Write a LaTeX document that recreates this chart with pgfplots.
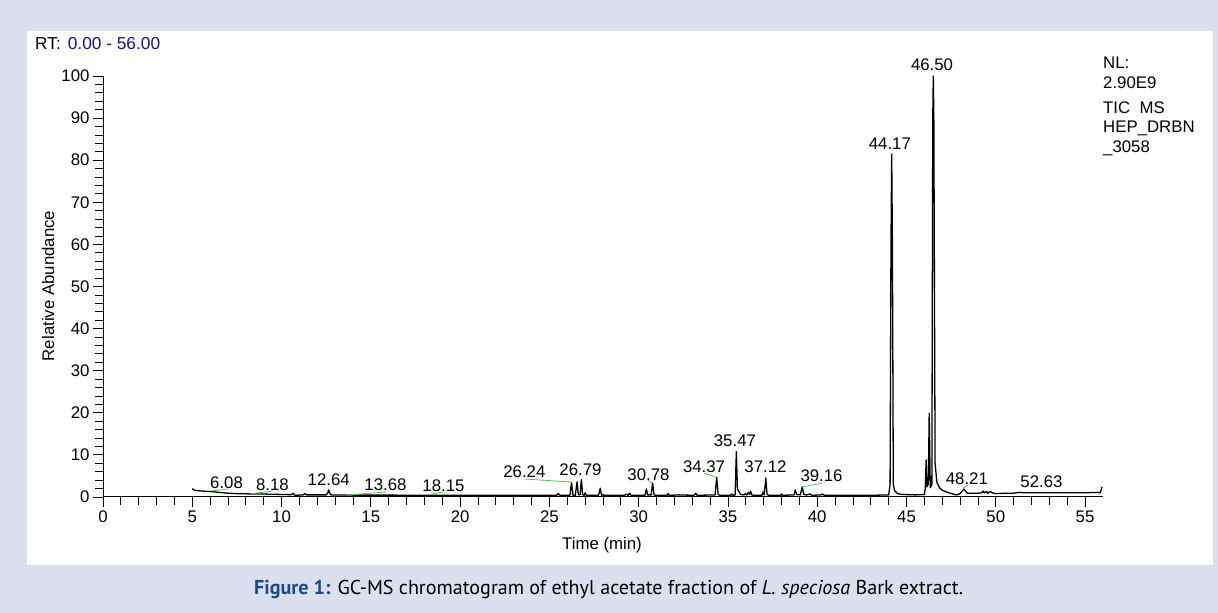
\documentclass[border=0pt]{standalone}
\usepackage{pgfplots}
\pgfplotsset{compat=1.18}
\usepackage{fontspec}
\setmainfont{Liberation Sans}
\newfontfamily\capfont{PT Sans}
\definecolor{lav}{RGB}{220,224,238}
\definecolor{capblue}{RGB}{27,75,140}
\definecolor{rtblue}{RGB}{20,20,150}
\definecolor{leadgreen}{RGB}{90,190,90}
\newcommand{\lab}{\fontsize{16.8}{19}\selectfont}
\begin{document}
\begin{tikzpicture}[x=1pt,y=1pt]
\fill[lav] (0,0) rectangle (1218,613);
\fill[white] (27,48) rectangle (1213,582);
\begin{axis}[
  at={(103pt,116pt)}, anchor=south west,
  scale only axis, width=1000pt, height=421pt,
  xmin=0, xmax=56, ymin=0, ymax=100,
  axis x line*=bottom, axis y line*=left,
  axis line style={line width=1pt, black},
  xtick={0,5,...,55}, ytick={0,10,...,100},
  minor x tick num=4, minor y tick num=4,
  tick align=outside,
  major tick length=10pt, minor tick length=8pt,
  tick style={black, line width=0.8pt},
  tick label style={font=\lab},
  /pgf/number format/assume math mode=true,
  clip=false,
]
\addplot[black, line width=1.3pt, line join=round] coordinates {
(5.00,2.0) (5.05,1.8) (5.15,1.6) (5.3,1.5) (5.6,1.4) (6.0,1.3) (6.5,1.1) (7.0,0.9) (7.5,0.8) (8.0,0.75) (9.0,0.7) (10.0,0.6)
(10.55,0.55) (10.65,0.9) (10.75,0.4) (11.2,0.5) (11.3,0.8) (11.4,0.5) (12.5,0.5) (12.58,0.9) (12.64,1.7) (12.70,0.9) (12.78,0.5)
(14,0.45) (16,0.45) (18,0.4) (20,0.4) (22,0.4) (24,0.4) (25.4,0.4) (25.5,0.8) (25.6,0.4)
(26.15,0.4) (26.24,3.4) (26.32,0.4) (26.45,0.4) (26.55,3.6) (26.62,0.5) (26.72,0.6) (26.79,4.1) (26.86,0.6) (26.95,0.4) (27.0,1.0) (27.07,0.4)
(27.75,0.4) (27.85,2.1) (27.92,0.4) (28.0,0.6) (28.05,0.4) (29.2,0.4) (29.3,0.7) (29.4,0.4) (29.5,0.9) (29.57,0.4)
(30.35,0.4) (30.43,1.9) (30.5,0.5) (30.7,0.5) (30.78,3.3) (30.86,0.5) (31.0,0.4) (31.6,0.4) (31.65,0.8) (31.72,0.4) (32.3,0.5)
(33.1,0.4) (33.2,0.9) (33.27,0.4) (34.28,0.5) (34.37,4.7) (34.45,0.6) (34.55,0.4) (35.15,0.4) (35.2,0.7) (35.28,0.4)
(35.4,0.5) (35.47,10.8) (35.53,1.8) (35.6,1.5) (35.7,0.6) (35.9,0.5) (35.97,0.8) (36.05,0.5) (36.15,1.1) (36.2,0.6) (36.27,1.4) (36.33,0.5)
(36.45,0.4) (36.9,0.4) (36.97,1.2) (37.03,0.5) (37.12,4.5) (37.19,0.6) (37.3,0.4) (37.95,0.4) (38.0,0.7) (38.05,0.4)
(38.7,0.5) (38.77,1.7) (38.85,0.6) (39.05,0.5) (39.16,2.4) (39.24,0.6) (39.4,0.5) (39.6,0.7) (39.7,0.4) (40.2,0.5) (40.3,0.7) (40.4,0.4)
(41,0.4) (43,0.4) (44.0,0.5) (44.08,3) (44.13,60) (44.17,81.5) (44.21,60) (44.26,3) (44.33,1.5) (44.5,0.8) (44.8,0.6) (45.5,0.5)
(46.0,0.6) (46.05,2) (46.1,8.8) (46.15,2.4) (46.22,3) (46.27,19.9) (46.33,2.2) (46.42,3) (46.47,90) (46.5,100) (46.53,90) (46.6,8)
(46.7,3.5) (46.85,2.2) (47.0,1.6) (47.3,1.1) (47.6,0.7) (47.8,0.5) (48.0,0.8) (48.21,1.9) (48.4,0.9) (48.7,0.9) (49.0,0.9)
(49.2,1.0) (49.3,1.4) (49.35,1.0) (49.5,1.3) (49.55,0.9) (49.7,1.3) (49.8,1.0) (50.0,0.8) (50.5,0.9) (51.0,0.9) (51.3,1.1) (51.6,1.0)
(52.0,1.0) (53,1.0) (54,1.0) (55,1.0) (55.7,1.1) (55.85,1.0) (55.95,2.4)
};
% leader lines
\draw[leadgreen, line width=0.8pt] (axis cs:6.05,1.42) -- (axis cs:7.0,1.9);
\draw[leadgreen, line width=0.8pt] (axis cs:8.18,0.71) -- (axis cs:9.52,1.42);
\draw[leadgreen, line width=0.8pt] (axis cs:13.66,0.47) -- (axis cs:15.85,1.18);
\draw[leadgreen, line width=0.8pt] (axis cs:18.14,0.47) -- (axis cs:19.04,1.18);
\draw[leadgreen, line width=0.8pt] (axis cs:23.63,4.27) -- (axis cs:26.26,3.55);
\draw[leadgreen, line width=0.8pt] (axis cs:30.52,4.03) -- (axis cs:30.74,3.3);
\draw[leadgreen, line width=0.8pt] (axis cs:33.66,5.7) -- (axis cs:34.33,4.74);
\draw[leadgreen, line width=0.8pt] (axis cs:39.14,2.37) -- (axis cs:40.26,3.3);
\draw[leadgreen, line width=0.8pt] (axis cs:48.16,2.13) -- (axis cs:48.44,2.84);
% peak labels
\node[anchor=base, font=\lab, inner sep=0pt] at (axis cs:6.92,2.13) {6.08};
\node[anchor=base, font=\lab, inner sep=0pt] at (axis cs:9.49,1.66) {8.18};
\node[anchor=base, font=\lab, inner sep=0pt] at (axis cs:12.64,2.84) {12.64};
\node[anchor=base, font=\lab, inner sep=0pt] at (axis cs:15.82,1.5) {13.68};
\node[anchor=base, font=\lab, inner sep=0pt] at (axis cs:19.07,1.42) {18.15};
\node[anchor=base, font=\lab, inner sep=0pt] at (axis cs:23.6,4.57) {26.24};
\node[anchor=base, font=\lab, inner sep=0pt] at (axis cs:26.74,5.2) {26.79};
\node[anchor=base, font=\lab, inner sep=0pt] at (axis cs:30.55,4.03) {30.78};
\node[anchor=base, font=\lab, inner sep=0pt] at (axis cs:33.66,5.76) {34.37};
\node[anchor=base, font=\lab, inner sep=0pt] at (axis cs:35.39,11.9) {35.47};
\node[anchor=base, font=\lab, inner sep=0pt] at (axis cs:37.1,5.76) {37.12};
\node[anchor=base, font=\lab, inner sep=0pt] at (axis cs:40.24,3.63) {39.16};
\node[anchor=base, font=\lab, inner sep=0pt] at (axis cs:44.07,82.6) {44.17};
\node[anchor=base, font=\lab, inner sep=0pt] at (axis cs:46.43,101.3) {46.50};
\node[anchor=base, font=\lab, inner sep=0pt] at (axis cs:48.38,3.0) {48.21};
\node[anchor=base, font=\lab, inner sep=0pt] at (axis cs:52.56,2.3) {52.63};
\end{axis}
% outside texts
\node[anchor=base west, font=\fontsize{17.3}{19}\selectfont, inner sep=0pt] at (35,563.7) {RT:\hspace{7pt}\textcolor{rtblue}{0.00 - 56.00}};
\node[anchor=base west, font=\lab, inner sep=0pt] at (1103,544.7) {NL:};
\node[anchor=base west, font=\lab, inner sep=0pt] at (1103,524.7) {2.90E9};
\node[anchor=base west, font=\lab, inner sep=0pt] at (1103,499.7) {TIC\ \ MS};
\node[anchor=base west, font=\lab, inner sep=0pt] at (1103,480.3) {HEP\_DRBN};
\node[anchor=base west, font=\lab, inner sep=0pt] at (1103,460.3) {\_3058};
\node[anchor=base, font=\lab, inner sep=0pt] at (602,63.7) {Time (min)};
\node[rotate=90, anchor=center, font=\lab, inner sep=0pt] at (48,327) {Relative Abundance};
\node[anchor=base west, inner sep=0pt] at (254,18) {\resizebox{709pt}{!}{\capfont\fontsize{18}{20}\selectfont\textcolor{capblue}{\bfseries Figure 1:} GC-MS chromatogram of ethyl acetate fraction of \textit{L. speciosa} Bark extract.}};
\end{tikzpicture}
\end{document}
